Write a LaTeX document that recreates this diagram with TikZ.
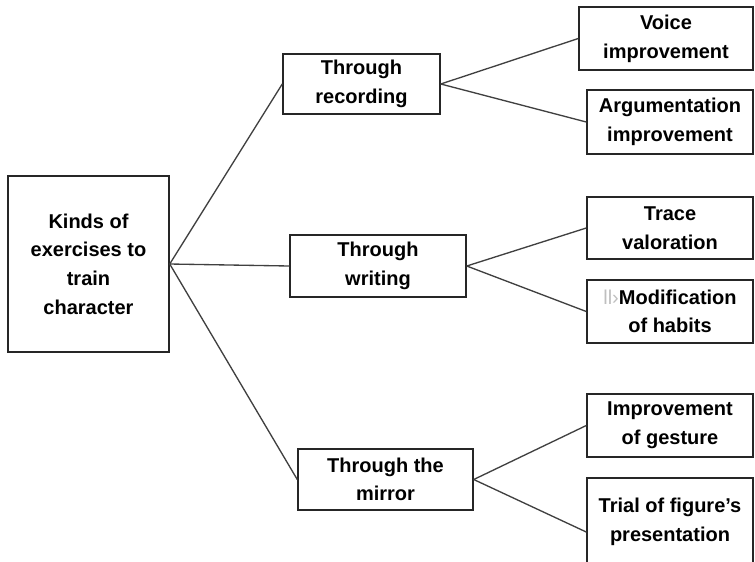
\documentclass[tikz,border=0pt]{standalone}
\usepackage{fontspec}
\setmainfont{Liberation Sans}
\usetikzlibrary{positioning}
\tikzset{box/.style={draw=black!85, line width=1.1pt, align=center, inner sep=0pt,
    font=\bfseries\fontsize{15}{21.5}\selectfont},
  leafbox/.style={box, minimum width=124.5pt, minimum height=47.25pt},
  link/.style={draw=black!75, line width=1pt}}

\begin{document}
\begin{tikzpicture}[x=0.75pt,y=-0.75pt]
\useasboundingbox (0,0) rectangle (755,561);
\clip (0,0) rectangle (755,561);
% root
\node[box, minimum width=120.75pt, minimum height=132pt] (kinds) at (88.5,264) {Kinds of\\exercises to\\train\\character};
% middle level
\node[box, minimum width=117.75pt, minimum height=45pt] (rec) at (361.5,84) {Through\\recording};
\node[box, minimum width=132pt, minimum height=46.5pt] (wri) at (378,266) {Through\\writing};
\node[box, minimum width=131.25pt, minimum height=45.75pt] (mir) at (385.5,479.5) {Through the\\mirror};
% leaves
\node[leafbox, minimum width=130.5pt] (voice) at (666,38.5) {Voice\\improvement};
\node[leafbox, minimum height=48pt] (arg) at (670,122) {Argumentation\\improvement};
\node[leafbox, minimum height=46.5pt] (trace) at (670,228) {Trace\\valoration};
\node[leafbox] (modif) at (670,311.5) {{\mdseries\color{black!25}ll›}Modification\\of habits};
\node[leafbox] (impr) at (670,425.5) {Improvement\\of gesture};
\node[leafbox, minimum height=66pt] (trial) at (670,522) {Trial of figure’s\\presentation};
\draw[link] (kinds.east) -- (rec.west);
\draw[link] (kinds.east) -- (wri.west);
\draw[link] (kinds.east) -- (mir.west);
\draw[link] (rec.east) -- (voice.west);
\draw[link] (rec.east) -- (arg.west);
\draw[link] (wri.east) -- (trace.west);
\draw[link] (wri.east) -- (modif.west);
\draw[link] (mir.east) -- (impr.west);
\draw[link] (mir.east) -- ([yshift=-7.5pt]trial.west);
\end{tikzpicture}
\end{document}
